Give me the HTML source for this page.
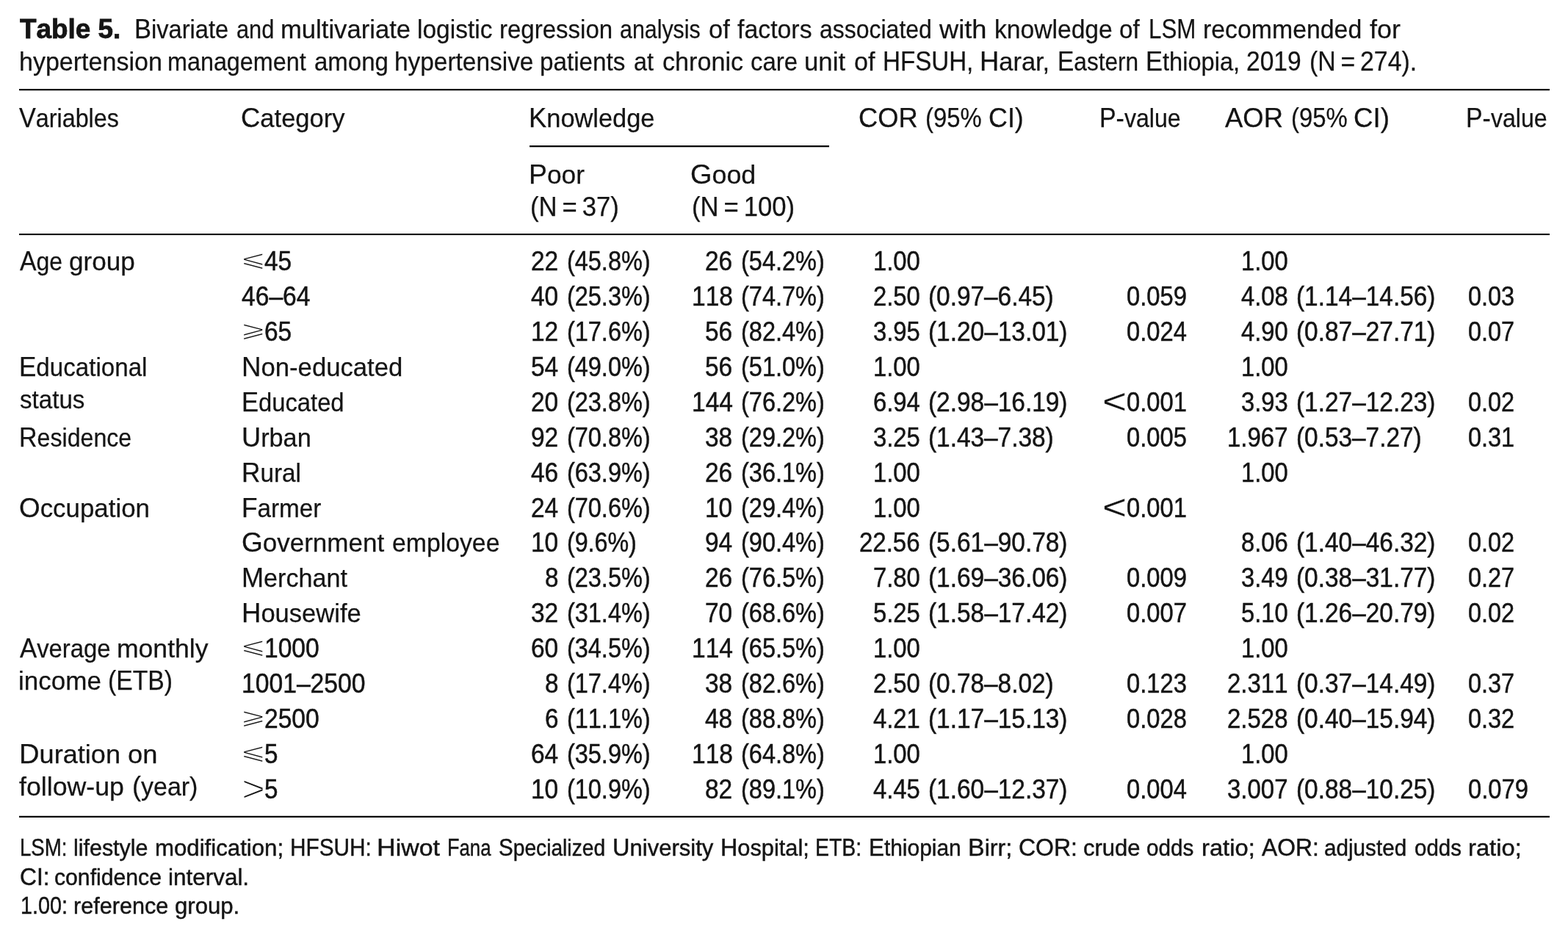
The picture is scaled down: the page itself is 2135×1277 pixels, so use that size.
<!DOCTYPE html>
<html lang="en">
<head>
<meta charset="utf-8">
<title>Table 5</title>
<style>
html,body{margin:0;padding:0;background:#fff;}
body{width:2135px;height:1277px;overflow:hidden;position:relative;
 font-family:"Liberation Sans","DejaVu Sans",sans-serif;color:#141414;font-size:37px;line-height:37px;}
#page{position:absolute;left:0;top:0;width:2135px;height:1277px;overflow:hidden;}
table,caption,thead,tbody,tr,th,td,p{display:block;margin:0;padding:0;border:0;font-weight:normal;text-align:left;}
.t{position:absolute;white-space:pre;transform-origin:0 0;font-size:37px;line-height:37px;font-weight:normal;
 -webkit-text-stroke:0.25px #141414;}
.t .l{font-size:35px;line-height:0;}
.f{font-size:32.5px;line-height:32.5px;-webkit-text-stroke-width:0.45px;}
.f .l{font-size:31px;}
.n{font-kerning:none;-webkit-text-stroke-width:0.5px;}
b.t{font-weight:bold;font-kerning:none;font-size:36px;line-height:36px;letter-spacing:0px;-webkit-text-stroke-width:0.8px;}
hr{position:absolute;margin:0;border:0;height:2px;background:#0a0a0a;background-clip:padding-box;}
i.sy{position:absolute;font-style:normal;font-family:"DejaVu Sans",sans-serif;white-space:pre;line-height:1;transform-origin:0 0;}
</style>
</head>
<body>
<div id="page">
<hr style="left:26px;top:121px;width:2084px;border-bottom:1px solid rgba(20,20,20,0.25)">
<hr style="left:721px;top:198px;width:408px;border-bottom:1px solid rgba(20,20,20,0.30)">
<hr style="left:26px;top:318px;width:2084px;border-bottom:1px solid rgba(20,20,20,0.10)">
<hr style="left:26px;top:1110px;width:2084px;border-top:1px solid rgba(20,20,20,0.25)">
<table>
<caption><b class="t" style="left:27.01px;top:22px;transform:scaleX(1.0246)">Table 5.</b> <span class="t" style="left:183.02px;top:21px;transform:scaleX(0.9321)">B<span class="l">ivariate</span></span> <span class="t" style="left:321.65px;top:21px;transform:scaleX(0.8768)"><span class="l">and</span></span> <span class="t" style="left:382.21px;top:21px;transform:scaleX(0.9895)"><span class="l">multivariate</span></span> <span class="t" style="left:567.53px;top:21px;transform:scaleX(0.9569)"><span class="l">logistic</span></span> <span class="t" style="left:680.05px;top:21px;transform:scaleX(0.9435)"><span class="l">regression</span></span> <span class="t" style="left:843.66px;top:21px;transform:scaleX(0.8674)"><span class="l">analysis</span></span> <span class="t" style="left:964.80px;top:21px;transform:scaleX(0.9832)"><span class="l">of</span></span> <span class="t" style="left:1004.37px;top:21px;transform:scaleX(0.9669)"><span class="l">factors</span></span> <span class="t" style="left:1115.87px;top:21px;transform:scaleX(0.9133)"><span class="l">associated</span></span> <span class="t" style="left:1279.45px;top:21px;transform:scaleX(1.0355)"><span class="l">with</span></span> <span class="t" style="left:1354.27px;top:21px;transform:scaleX(0.9604)"><span class="l">knowledge</span></span> <span class="t" style="left:1524.08px;top:21px;transform:scaleX(0.9481)"><span class="l">of</span></span> <span class="t" style="left:1563.91px;top:21px;transform:scaleX(0.8457)">LSM</span> <span class="t" style="left:1637.51px;top:21px;transform:scaleX(0.9666)"><span class="l">recommended</span></span> <span class="t" style="left:1865.13px;top:21px;transform:scaleX(1.0259)"><span class="l">for</span></span> <span class="t" style="left:25.69px;top:65px;transform:scaleX(0.9722)"><span class="l">hypertension</span></span> <span class="t" style="left:228.10px;top:65px;transform:scaleX(0.9236)"><span class="l">management</span></span> <span class="t" style="left:427.84px;top:65px;transform:scaleX(0.9427)"><span class="l">among</span></span> <span class="t" style="left:536.78px;top:65px;transform:scaleX(0.9547)"><span class="l">hypertensive</span></span> <span class="t" style="left:735.04px;top:65px;transform:scaleX(0.9493)"><span class="l">patients</span></span> <span class="t" style="left:862.86px;top:65px;transform:scaleX(0.9217)"><span class="l">at</span></span> <span class="t" style="left:901.55px;top:65px;transform:scaleX(0.9759)"><span class="l">chronic</span></span> <span class="t" style="left:1022.09px;top:65px;transform:scaleX(0.9418)"><span class="l">care</span></span> <span class="t" style="left:1094.95px;top:65px;transform:scaleX(0.9932)"><span class="l">unit</span></span> <span class="t" style="left:1163.31px;top:65px;transform:scaleX(0.9744)"><span class="l">of</span></span> <span class="t" style="left:1202.02px;top:65px;transform:scaleX(0.8955)">HFSUH,</span> <span class="t" style="left:1334.28px;top:65px;transform:scaleX(0.9833)">H<span class="l">arar,</span></span> <span class="t" style="left:1439.50px;top:65px;transform:scaleX(0.9032)">E<span class="l">astern</span></span> <span class="t" style="left:1560.42px;top:65px;transform:scaleX(0.9315)">E<span class="l">thiopia,</span></span> <span class="t" style="left:1697.29px;top:65px;transform:scaleX(0.9076)">2019</span> <span class="t" style="left:1783.03px;top:65px;transform:scaleX(0.9146)">(N = 274).</span></caption>
<thead>
<tr><th class="t" style="left:26.42px;top:142px;transform:scaleX(0.9227)">V<span class="l">ariables</span></th><th class="t" style="left:328.41px;top:142px;transform:scaleX(0.9859)">C<span class="l">ategory</span></th><th class="t" style="left:719.98px;top:142px;transform:scaleX(0.9826)">K<span class="l">nowledge</span></th><th><span class="t" style="left:1168.92px;top:142px;transform:scaleX(0.9815)">COR</span> <span class="t" style="left:1260.32px;top:142px;transform:scaleX(0.8860)">(95%</span> <span class="t" style="left:1346.44px;top:142px;transform:scaleX(0.9689)">CI)</span></th><th class="t" style="left:1496.76px;top:142px;transform:scaleX(0.9167)">P-<span class="l">value</span></th><th><span class="t" style="left:1668.12px;top:142px;transform:scaleX(0.9854)">AOR</span> <span class="t" style="left:1757.57px;top:142px;transform:scaleX(0.8890)">(95%</span> <span class="t" style="left:1843.15px;top:142px;transform:scaleX(0.9961)">CI)</span></th><th class="t" style="left:1996.26px;top:142px;transform:scaleX(0.9167)">P-<span class="l">value</span></th></tr>
<tr><th class="t" style="left:720.11px;top:219px;transform:scaleX(1.0087)">P<span class="l">oor</span></th><th class="t" style="left:940.35px;top:219px;transform:scaleX(1.0234)">G<span class="l">ood</span></th></tr>
<tr><th class="t" style="left:721.59px;top:263px;transform:scaleX(0.9367)">(N = 37)</th><th class="t" style="left:941.59px;top:263px;transform:scaleX(0.9368)">(N = 100)</th></tr>
</thead>
<tbody>
<tr><td><span class="t" style="left:26.86px;top:337px;transform:scaleX(0.9126)">A<span class="l">ge</span></span> <span class="t" style="left:94.03px;top:337px;transform:scaleX(1.0026)"><span class="l">group</span></span></td><td><i class="sy" style="left:326.90px;top:337px;font-size:36px;transform:scale(1.1820,0.8790);-webkit-text-stroke:1.3px #fff">⩽</i><span class="t n" style="left:360.38px;top:337px;transform:scaleX(0.9045)">45</span></td><td><span class="t n" style="left:723.18px;top:337px;transform:scaleX(0.9045)">22</span> <span class="t n" style="left:771.60px;top:337px;transform:scaleX(0.8765)">(45.8%)</span></td><td><span class="t n" style="left:960.38px;top:337px;transform:scaleX(0.9045)">26</span> <span class="t n" style="left:1008.70px;top:337px;transform:scaleX(0.8781)">(54.2%)</span></td><td><span class="t n" style="left:1188.70px;top:337px;transform:scaleX(0.8859)">1.00</span></td><td></td><td><span class="t n" style="left:1689.70px;top:337px;transform:scaleX(0.8859)">1.00</span></td><td></td></tr>
<tr><td></td><td><span class="t n" style="left:328.98px;top:385px;transform:scaleX(0.9086)">46–64</span></td><td><span class="t n" style="left:723.18px;top:385px;transform:scaleX(0.9045)">40</span> <span class="t n" style="left:771.60px;top:385px;transform:scaleX(0.8765)">(25.3%)</span></td><td><span class="t n" style="left:941.63px;top:385px;transform:scaleX(0.9068)">118</span> <span class="t n" style="left:1008.70px;top:385px;transform:scaleX(0.8781)">(74.7%)</span></td><td><span class="t n" style="left:1188.70px;top:385px;transform:scaleX(0.8859)">2.50</span> <span class="t n" style="left:1263.91px;top:385px;transform:scaleX(0.9019)">(0.97–6.45)</span></td><td><span class="t n" style="left:1534.20px;top:385px;transform:scaleX(0.8845)">0.059</span></td><td><span class="t n" style="left:1689.70px;top:385px;transform:scaleX(0.8859)">4.08</span> <span class="t n" style="left:1764.91px;top:385px;transform:scaleX(0.9029)">(1.14–14.56)</span></td><td><span class="t n" style="left:1999.11px;top:385px;transform:scaleX(0.8767)">0.03</span></td></tr>
<tr><td></td><td><i class="sy" style="left:326.90px;top:433px;font-size:36px;transform:scale(1.1820,0.8790);-webkit-text-stroke:1.3px #fff">⩾</i><span class="t n" style="left:360.38px;top:433px;transform:scaleX(0.9045)">65</span></td><td><span class="t n" style="left:723.18px;top:433px;transform:scaleX(0.9045)">12</span> <span class="t n" style="left:771.60px;top:433px;transform:scaleX(0.8765)">(17.6%)</span></td><td><span class="t n" style="left:960.38px;top:433px;transform:scaleX(0.9045)">56</span> <span class="t n" style="left:1008.70px;top:433px;transform:scaleX(0.8781)">(82.4%)</span></td><td><span class="t n" style="left:1188.70px;top:433px;transform:scaleX(0.8859)">3.95</span> <span class="t n" style="left:1263.91px;top:433px;transform:scaleX(0.9029)">(1.20–13.01)</span></td><td><span class="t n" style="left:1534.20px;top:433px;transform:scaleX(0.8845)">0.024</span></td><td><span class="t n" style="left:1689.70px;top:433px;transform:scaleX(0.8859)">4.90</span> <span class="t n" style="left:1764.91px;top:433px;transform:scaleX(0.9029)">(0.87–27.71)</span></td><td><span class="t n" style="left:1999.11px;top:433px;transform:scaleX(0.8767)">0.07</span></td></tr>
<tr><td><span class="t" style="left:26.38px;top:481px;transform:scaleX(0.9466)">E<span class="l">ducational</span></span> <span class="t" style="left:26.70px;top:525px;transform:scaleX(0.9467)"><span class="l">status</span></span></td><td><span class="t" style="left:329.01px;top:481px;transform:scaleX(0.9908)">N<span class="l">on-educated</span></span></td><td><span class="t n" style="left:723.18px;top:481px;transform:scaleX(0.9045)">54</span> <span class="t n" style="left:771.60px;top:481px;transform:scaleX(0.8765)">(49.0%)</span></td><td><span class="t n" style="left:960.38px;top:481px;transform:scaleX(0.9045)">56</span> <span class="t n" style="left:1008.70px;top:481px;transform:scaleX(0.8781)">(51.0%)</span></td><td><span class="t n" style="left:1188.70px;top:481px;transform:scaleX(0.8859)">1.00</span></td><td></td><td><span class="t n" style="left:1689.70px;top:481px;transform:scaleX(0.8859)">1.00</span></td><td></td></tr>
<tr><td></td><td><span class="t" style="left:329.16px;top:529px;transform:scaleX(0.9351)">E<span class="l">ducated</span></span></td><td><span class="t n" style="left:723.18px;top:529px;transform:scaleX(0.9045)">20</span> <span class="t n" style="left:771.60px;top:529px;transform:scaleX(0.8765)">(23.8%)</span></td><td><span class="t n" style="left:941.63px;top:529px;transform:scaleX(0.9068)">144</span> <span class="t n" style="left:1008.70px;top:529px;transform:scaleX(0.8781)">(76.2%)</span></td><td><span class="t n" style="left:1188.70px;top:529px;transform:scaleX(0.8859)">6.94</span> <span class="t n" style="left:1263.91px;top:529px;transform:scaleX(0.9029)">(2.98–16.19)</span></td><td><i class="sy" style="font-family:'Liberation Sans',sans-serif;left:1501.30px;top:522px;font-size:48.5px;transform:scaleX(1.1690);-webkit-text-stroke:0.3px #fff">&lt;</i><span class="t n" style="left:1534.20px;top:529px;transform:scaleX(0.8845)">0.001</span></td><td><span class="t n" style="left:1689.70px;top:529px;transform:scaleX(0.8859)">3.93</span> <span class="t n" style="left:1764.91px;top:529px;transform:scaleX(0.9029)">(1.27–12.23)</span></td><td><span class="t n" style="left:1999.11px;top:529px;transform:scaleX(0.8767)">0.02</span></td></tr>
<tr><td><span class="t" style="left:26.21px;top:577px;transform:scaleX(0.9184)">R<span class="l">esidence</span></span></td><td><span class="t" style="left:329.11px;top:577px;transform:scaleX(0.9782)">U<span class="l">rban</span></span></td><td><span class="t n" style="left:723.18px;top:577px;transform:scaleX(0.9045)">92</span> <span class="t n" style="left:771.60px;top:577px;transform:scaleX(0.8765)">(70.8%)</span></td><td><span class="t n" style="left:960.38px;top:577px;transform:scaleX(0.9045)">38</span> <span class="t n" style="left:1008.70px;top:577px;transform:scaleX(0.8781)">(29.2%)</span></td><td><span class="t n" style="left:1188.70px;top:577px;transform:scaleX(0.8859)">3.25</span> <span class="t n" style="left:1263.91px;top:577px;transform:scaleX(0.9019)">(1.43–7.38)</span></td><td><span class="t n" style="left:1534.20px;top:577px;transform:scaleX(0.8845)">0.005</span></td><td><span class="t n" style="left:1670.94px;top:577px;transform:scaleX(0.8916)">1.967</span> <span class="t n" style="left:1764.91px;top:577px;transform:scaleX(0.9019)">(0.53–7.27)</span></td><td><span class="t n" style="left:1999.11px;top:577px;transform:scaleX(0.8767)">0.31</span></td></tr>
<tr><td></td><td><span class="t" style="left:329.12px;top:625px;transform:scaleX(0.9512)">R<span class="l">ural</span></span></td><td><span class="t n" style="left:723.18px;top:625px;transform:scaleX(0.9045)">46</span> <span class="t n" style="left:771.60px;top:625px;transform:scaleX(0.8765)">(63.9%)</span></td><td><span class="t n" style="left:960.38px;top:625px;transform:scaleX(0.9045)">26</span> <span class="t n" style="left:1008.70px;top:625px;transform:scaleX(0.8781)">(36.1%)</span></td><td><span class="t n" style="left:1188.70px;top:625px;transform:scaleX(0.8859)">1.00</span></td><td></td><td><span class="t n" style="left:1689.70px;top:625px;transform:scaleX(0.8859)">1.00</span></td><td></td></tr>
<tr><td><span class="t" style="left:25.90px;top:673px;transform:scaleX(0.9962)">O<span class="l">ccupation</span></span></td><td><span class="t" style="left:329.12px;top:673px;transform:scaleX(0.9510)">F<span class="l">armer</span></span></td><td><span class="t n" style="left:723.18px;top:673px;transform:scaleX(0.9045)">24</span> <span class="t n" style="left:771.60px;top:673px;transform:scaleX(0.8765)">(70.6%)</span></td><td><span class="t n" style="left:960.38px;top:673px;transform:scaleX(0.9045)">10</span> <span class="t n" style="left:1008.70px;top:673px;transform:scaleX(0.8781)">(29.4%)</span></td><td><span class="t n" style="left:1188.70px;top:673px;transform:scaleX(0.8859)">1.00</span></td><td><i class="sy" style="font-family:'Liberation Sans',sans-serif;left:1501.30px;top:666px;font-size:48.5px;transform:scaleX(1.1690);-webkit-text-stroke:0.3px #fff">&lt;</i><span class="t n" style="left:1534.20px;top:673px;transform:scaleX(0.8845)">0.001</span></td><td></td><td></td></tr>
<tr><td></td><td><span class="t" style="left:328.89px;top:720px;transform:scaleX(0.9998)">G<span class="l">overnment</span></span> <span class="t" style="left:534.32px;top:720px;transform:scaleX(0.9649)"><span class="l">employee</span></span></td><td><span class="t n" style="left:723.18px;top:720px;transform:scaleX(0.9045)">10</span> <span class="t n" style="left:771.61px;top:720px;transform:scaleX(0.8698)">(9.6%)</span></td><td><span class="t n" style="left:960.38px;top:720px;transform:scaleX(0.9045)">94</span> <span class="t n" style="left:1008.70px;top:720px;transform:scaleX(0.8781)">(90.4%)</span></td><td><span class="t n" style="left:1169.94px;top:720px;transform:scaleX(0.8916)">22.56</span> <span class="t n" style="left:1263.91px;top:720px;transform:scaleX(0.9029)">(5.61–90.78)</span></td><td></td><td><span class="t n" style="left:1689.70px;top:720px;transform:scaleX(0.8859)">8.06</span> <span class="t n" style="left:1764.91px;top:720px;transform:scaleX(0.9029)">(1.40–46.32)</span></td><td><span class="t n" style="left:1999.11px;top:720px;transform:scaleX(0.8767)">0.02</span></td></tr>
<tr><td></td><td><span class="t" style="left:329.05px;top:768px;transform:scaleX(0.9755)">M<span class="l">erchant</span></span></td><td><span class="t n" style="left:741.94px;top:768px;transform:scaleX(0.8973)">8</span> <span class="t n" style="left:771.60px;top:768px;transform:scaleX(0.8765)">(23.5%)</span></td><td><span class="t n" style="left:960.38px;top:768px;transform:scaleX(0.9045)">26</span> <span class="t n" style="left:1008.70px;top:768px;transform:scaleX(0.8781)">(76.5%)</span></td><td><span class="t n" style="left:1188.70px;top:768px;transform:scaleX(0.8859)">7.80</span> <span class="t n" style="left:1263.91px;top:768px;transform:scaleX(0.9029)">(1.69–36.06)</span></td><td><span class="t n" style="left:1534.20px;top:768px;transform:scaleX(0.8845)">0.009</span></td><td><span class="t n" style="left:1689.70px;top:768px;transform:scaleX(0.8859)">3.49</span> <span class="t n" style="left:1764.91px;top:768px;transform:scaleX(0.9029)">(0.38–31.77)</span></td><td><span class="t n" style="left:1999.11px;top:768px;transform:scaleX(0.8767)">0.27</span></td></tr>
<tr><td></td><td><span class="t" style="left:329.02px;top:816px;transform:scaleX(0.9872)">H<span class="l">ousewife</span></span></td><td><span class="t n" style="left:723.18px;top:816px;transform:scaleX(0.9045)">32</span> <span class="t n" style="left:771.60px;top:816px;transform:scaleX(0.8765)">(31.4%)</span></td><td><span class="t n" style="left:960.38px;top:816px;transform:scaleX(0.9045)">70</span> <span class="t n" style="left:1008.70px;top:816px;transform:scaleX(0.8781)">(68.6%)</span></td><td><span class="t n" style="left:1188.70px;top:816px;transform:scaleX(0.8859)">5.25</span> <span class="t n" style="left:1263.91px;top:816px;transform:scaleX(0.9029)">(1.58–17.42)</span></td><td><span class="t n" style="left:1534.20px;top:816px;transform:scaleX(0.8845)">0.007</span></td><td><span class="t n" style="left:1689.70px;top:816px;transform:scaleX(0.8859)">5.10</span> <span class="t n" style="left:1764.91px;top:816px;transform:scaleX(0.9029)">(1.26–20.79)</span></td><td><span class="t n" style="left:1999.11px;top:816px;transform:scaleX(0.8767)">0.02</span></td></tr>
<tr><td><span class="t" style="left:26.87px;top:864px;transform:scaleX(0.9383)">A<span class="l">verage</span></span> <span class="t" style="left:159.16px;top:864px;transform:scaleX(1.0155)"><span class="l">monthly</span></span> <span class="t" style="left:24.69px;top:908px;transform:scaleX(1.0003)"><span class="l">income</span></span> <span class="t" style="left:147.28px;top:908px;transform:scaleX(0.9119)">(ETB)</span></td><td><i class="sy" style="left:326.90px;top:864px;font-size:36px;transform:scale(1.1820,0.8790);-webkit-text-stroke:1.3px #fff">⩽</i><span class="t n" style="left:360.38px;top:864px;transform:scaleX(0.9079)">1000</span></td><td><span class="t n" style="left:723.18px;top:864px;transform:scaleX(0.9045)">60</span> <span class="t n" style="left:771.60px;top:864px;transform:scaleX(0.8765)">(34.5%)</span></td><td><span class="t n" style="left:941.63px;top:864px;transform:scaleX(0.9068)">114</span> <span class="t n" style="left:1008.70px;top:864px;transform:scaleX(0.8781)">(65.5%)</span></td><td><span class="t n" style="left:1188.70px;top:864px;transform:scaleX(0.8859)">1.00</span></td><td></td><td><span class="t n" style="left:1689.70px;top:864px;transform:scaleX(0.8859)">1.00</span></td><td></td></tr>
<tr><td></td><td><span class="t n" style="left:328.98px;top:912px;transform:scaleX(0.9097)">1001–2500</span></td><td><span class="t n" style="left:741.94px;top:912px;transform:scaleX(0.8973)">8</span> <span class="t n" style="left:771.60px;top:912px;transform:scaleX(0.8765)">(17.4%)</span></td><td><span class="t n" style="left:960.38px;top:912px;transform:scaleX(0.9045)">38</span> <span class="t n" style="left:1008.70px;top:912px;transform:scaleX(0.8781)">(82.6%)</span></td><td><span class="t n" style="left:1188.70px;top:912px;transform:scaleX(0.8859)">2.50</span> <span class="t n" style="left:1263.91px;top:912px;transform:scaleX(0.9019)">(0.78–8.02)</span></td><td><span class="t n" style="left:1534.20px;top:912px;transform:scaleX(0.8845)">0.123</span></td><td><span class="t n" style="left:1670.94px;top:912px;transform:scaleX(0.8916)">2.311</span> <span class="t n" style="left:1764.91px;top:912px;transform:scaleX(0.9029)">(0.37–14.49)</span></td><td><span class="t n" style="left:1999.11px;top:912px;transform:scaleX(0.8767)">0.37</span></td></tr>
<tr><td></td><td><i class="sy" style="left:326.90px;top:960px;font-size:36px;transform:scale(1.1820,0.8790);-webkit-text-stroke:1.3px #fff">⩾</i><span class="t n" style="left:360.38px;top:960px;transform:scaleX(0.9079)">2500</span></td><td><span class="t n" style="left:741.94px;top:960px;transform:scaleX(0.8973)">6</span> <span class="t n" style="left:771.60px;top:960px;transform:scaleX(0.8765)">(11.1%)</span></td><td><span class="t n" style="left:960.38px;top:960px;transform:scaleX(0.9045)">48</span> <span class="t n" style="left:1008.70px;top:960px;transform:scaleX(0.8781)">(88.8%)</span></td><td><span class="t n" style="left:1188.70px;top:960px;transform:scaleX(0.8859)">4.21</span> <span class="t n" style="left:1263.91px;top:960px;transform:scaleX(0.9029)">(1.17–15.13)</span></td><td><span class="t n" style="left:1534.20px;top:960px;transform:scaleX(0.8845)">0.028</span></td><td><span class="t n" style="left:1670.94px;top:960px;transform:scaleX(0.8916)">2.528</span> <span class="t n" style="left:1764.91px;top:960px;transform:scaleX(0.9029)">(0.40–15.94)</span></td><td><span class="t n" style="left:1999.11px;top:960px;transform:scaleX(0.8767)">0.32</span></td></tr>
<tr><td><span class="t" style="left:25.90px;top:1008px;transform:scaleX(1.0317)">D<span class="l">uration</span></span> <span class="t" style="left:173.99px;top:1008px;transform:scaleX(1.0380)"><span class="l">on</span></span> <span class="t" style="left:26.38px;top:1052px;transform:scaleX(1.0204)"><span class="l">follow-up</span></span> <span class="t" style="left:179.69px;top:1052px;transform:scaleX(0.9715)">(<span class="l">year)</span></span></td><td><i class="sy" style="left:326.90px;top:1008px;font-size:36px;transform:scale(1.1820,0.8790);-webkit-text-stroke:1.3px #fff">⩽</i><span class="t n" style="left:360.39px;top:1008px;transform:scaleX(0.8973)">5</span></td><td><span class="t n" style="left:723.18px;top:1008px;transform:scaleX(0.9045)">64</span> <span class="t n" style="left:771.60px;top:1008px;transform:scaleX(0.8765)">(35.9%)</span></td><td><span class="t n" style="left:941.63px;top:1008px;transform:scaleX(0.9068)">118</span> <span class="t n" style="left:1008.70px;top:1008px;transform:scaleX(0.8781)">(64.8%)</span></td><td><span class="t n" style="left:1188.70px;top:1008px;transform:scaleX(0.8859)">1.00</span></td><td></td><td><span class="t n" style="left:1689.70px;top:1008px;transform:scaleX(0.8859)">1.00</span></td><td></td></tr>
<tr><td></td><td><i class="sy" style="font-family:'Liberation Sans',sans-serif;left:328.60px;top:1049px;font-size:50px;transform:scaleX(1.0990);-webkit-text-stroke:1.5px #fff">&gt;</i><span class="t n" style="left:360.39px;top:1056px;transform:scaleX(0.8973)">5</span></td><td><span class="t n" style="left:723.18px;top:1056px;transform:scaleX(0.9045)">10</span> <span class="t n" style="left:771.60px;top:1056px;transform:scaleX(0.8765)">(10.9%)</span></td><td><span class="t n" style="left:960.38px;top:1056px;transform:scaleX(0.9045)">82</span> <span class="t n" style="left:1008.70px;top:1056px;transform:scaleX(0.8781)">(89.1%)</span></td><td><span class="t n" style="left:1188.70px;top:1056px;transform:scaleX(0.8859)">4.45</span> <span class="t n" style="left:1263.91px;top:1056px;transform:scaleX(0.9029)">(1.60–12.37)</span></td><td><span class="t n" style="left:1534.20px;top:1056px;transform:scaleX(0.8845)">0.004</span></td><td><span class="t n" style="left:1670.94px;top:1056px;transform:scaleX(0.8916)">3.007</span> <span class="t n" style="left:1764.91px;top:1056px;transform:scaleX(0.9029)">(0.88–10.25)</span></td><td><span class="t n" style="left:1999.10px;top:1056px;transform:scaleX(0.8845)">0.079</span></td></tr>
</tbody>
</table>
<p><span class="t f" style="left:26.53px;top:1138px;transform:scaleX(0.8506)">LSM:</span> <span class="t f" style="left:99.57px;top:1138px;transform:scaleX(0.9813)"><span class="l">lifestyle</span></span> <span class="t f" style="left:210.78px;top:1138px;transform:scaleX(1.0060)"><span class="l">modification;</span></span> <span class="t f" style="left:395.38px;top:1138px;transform:scaleX(0.9163)">HFSUH:</span> <span class="t f" style="left:513.22px;top:1138px;transform:scaleX(1.0927)">H<span class="l">iwot</span></span> <span class="t f" style="left:609.32px;top:1138px;transform:scaleX(0.8321)">F<span class="l">ana</span></span> <span class="t f" style="left:679.28px;top:1138px;transform:scaleX(0.9093)">S<span class="l">pecialized</span></span> <span class="t f" style="left:833.69px;top:1138px;transform:scaleX(1.0011)">U<span class="l">niversity</span></span> <span class="t f" style="left:980.70px;top:1138px;transform:scaleX(0.9931)">H<span class="l">ospital;</span></span> <span class="t f" style="left:1110.48px;top:1138px;transform:scaleX(0.8739)">ETB:</span> <span class="t f" style="left:1182.77px;top:1138px;transform:scaleX(0.9648)">E<span class="l">thiopian</span></span> <span class="t f" style="left:1318.09px;top:1138px;transform:scaleX(1.0433)">B<span class="l">irr;</span></span> <span class="t f" style="left:1386.97px;top:1138px;transform:scaleX(0.9839)">COR:</span> <span class="t f" style="left:1474.76px;top:1138px;transform:scaleX(0.9997)"><span class="l">crude</span></span> <span class="t f" style="left:1561.29px;top:1138px;transform:scaleX(0.9582)"><span class="l">odds</span></span> <span class="t f" style="left:1635.69px;top:1138px;transform:scaleX(1.0558)"><span class="l">ratio;</span></span> <span class="t f" style="left:1717.72px;top:1138px;transform:scaleX(0.9807)">AOR:</span> <span class="t f" style="left:1803.04px;top:1138px;transform:scaleX(0.9569)"><span class="l">adjusted</span></span> <span class="t f" style="left:1925.54px;top:1138px;transform:scaleX(0.9506)"><span class="l">odds</span></span> <span class="t f" style="left:1999.44px;top:1138px;transform:scaleX(1.0558)"><span class="l">ratio;</span></span></p>
<p><span class="t f" style="left:26.53px;top:1178px;transform:scaleX(0.9781)">CI:</span> <span class="t f" style="left:74.28px;top:1178px;transform:scaleX(0.9735)"><span class="l">confidence</span></span> <span class="t f" style="left:228.76px;top:1178px;transform:scaleX(1.0143)"><span class="l">interval.</span></span></p>
<p><span class="t n f" style="left:27.90px;top:1217px;transform:scaleX(0.8852)">1.00:</span> <span class="t f" style="left:100.01px;top:1217px;transform:scaleX(0.9865)"><span class="l">reference</span></span> <span class="t f" style="left:237.55px;top:1217px;transform:scaleX(1.0037)"><span class="l">group.</span></span></p>
</div>
</body>
</html>
